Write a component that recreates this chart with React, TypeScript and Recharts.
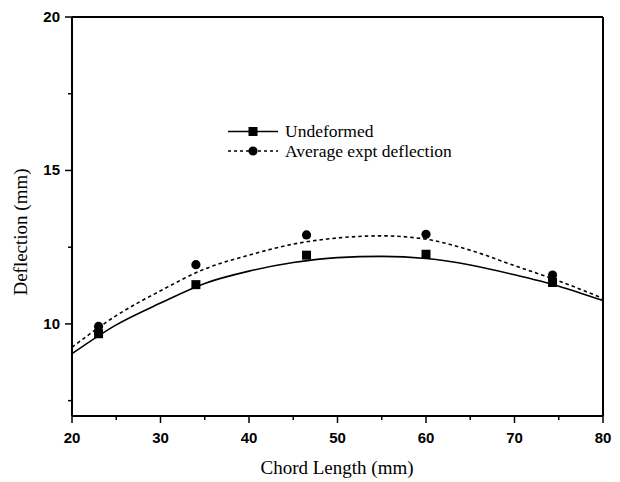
import React from 'react';
import {
  ComposedChart,
  Line,
  Scatter,
  XAxis,
  YAxis,
  ReferenceLine,
  Label,
} from 'recharts';

// fitted curves
const curveX = [20, 25, 30, 35, 40, 45, 50, 55, 60, 65, 70, 75, 80];
const undeformedFit = [9.03, 9.97, 10.68, 11.32, 11.72, 12.0, 12.16, 12.2, 12.13, 11.92, 11.6, 11.23, 10.76];
const averageFit = [9.24, 10.27, 11.08, 11.79, 12.24, 12.6, 12.8, 12.87, 12.76, 12.4, 11.9, 11.4, 10.83];

// measured points
const pointX = [23, 34, 46.5, 60, 74.3];
const undeformedPts = [9.68, 11.28, 12.24, 12.27, 11.35];
const averagePts = [9.92, 11.93, 12.9, 12.92, 11.59];

const xTicks = [20, 25, 30, 35, 40, 45, 50, 55, 60, 65, 70, 75, 80];
const xLabels = [20, 30, 40, 50, 60, 70, 80];
const yTicks = [7.5, 10, 12.5, 15, 17.5, 20];
const yLabels = [10, 15, 20];

const undeformedCurve = curveX.map((x, i) => ({ x, y: undeformedFit[i] }));
const averageCurve = curveX.map((x, i) => ({ x, y: averageFit[i] }));
const undeformedData = pointX.map((x, i) => ({ x, y: undeformedPts[i] }));
const averageData = pointX.map((x, i) => ({ x, y: averagePts[i] }));

const tickFont = { fontFamily: '"Liberation Sans", Arial, sans-serif', fontWeight: 700, fontSize: 15 };
const serif = '"Liberation Serif", "Times New Roman", serif';

const XTick = (props: any) => {
  const { x, y, payload } = props;
  const major = xLabels.includes(payload.value);
  return (
    <g>
      <line x1={x} y1={y} x2={x} y2={y + (major ? 7 : 4)} stroke="#000" strokeWidth={1.5} />
      {major && (
        <text x={x} y={y + 27} textAnchor="middle" fill="#000" style={tickFont}>
          {payload.value}
        </text>
      )}
    </g>
  );
};

const YTick = (props: any) => {
  const { x, y, payload } = props;
  const major = yLabels.includes(payload.value);
  return (
    <g>
      <line x1={x - (major ? 7 : 4)} y1={y} x2={x} y2={y} stroke="#000" strokeWidth={1.5} />
      {major && (
        <text x={x - 12} y={y + 5} textAnchor="end" fill="#000" style={tickFont}>
          {payload.value}
        </text>
      )}
    </g>
  );
};

const Square = (props: any) => {
  const { cx, cy } = props;
  return <rect x={cx - 4.5} y={cy - 4.5} width={9} height={9} fill="#000" />;
};

const Dot = (props: any) => {
  const { cx, cy } = props;
  return <circle cx={cx} cy={cy} r={4.6} fill="#000" />;
};

export default function App() {
  return (
    <div style={{ position: 'absolute', left: 0, top: 0, width: 620, height: 482, background: '#fff' }}>
      <ComposedChart width={620} height={482} margin={{ top: 17, right: 17, bottom: 16, left: 0 }}>
        <XAxis
          dataKey="x"
          type="number"
          domain={[20, 80]}
          ticks={xTicks}
          interval={0}
          height={50}
          tickSize={0}
          tickMargin={0}
          tickLine={false}
          tick={<XTick />}
          axisLine={{ stroke: '#000', strokeWidth: 2 }}
        >
          <Label
            content={() => (
              <text x={337} y={474} textAnchor="middle" fill="#000" fontFamily={serif} fontSize={19}>
                Chord Length (mm)
              </text>
            )}
          />
        </XAxis>
        <YAxis
          dataKey="y"
          type="number"
          domain={[7, 20]}
          ticks={yTicks}
          interval={0}
          width={72}
          tickSize={0}
          tickMargin={0}
          tickLine={false}
          tick={<YTick />}
          axisLine={{ stroke: '#000', strokeWidth: 2 }}
        >
          <Label
            content={() => (
              <text
                x={27}
                y={232}
                textAnchor="middle"
                fill="#000"
                fontFamily={serif}
                fontSize={19}
                transform="rotate(-90 27 232)"
              >
                Deflection (mm)
              </text>
            )}
          />
        </YAxis>
        <ReferenceLine y={20} stroke="#000" strokeWidth={2} />
        <ReferenceLine x={80} stroke="#000" strokeWidth={2} />
        <Line
          data={undeformedCurve}
          dataKey="y"
          type="monotone"
          stroke="#000"
          strokeWidth={1.6}
          dot={false}
          activeDot={false}
          isAnimationActive={false}
        />
        <Line
          data={averageCurve}
          dataKey="y"
          type="monotone"
          stroke="#000"
          strokeWidth={1.6}
          strokeDasharray="3.5 3"
          dot={false}
          activeDot={false}
          isAnimationActive={false}
        />
        <Scatter data={undeformedData} dataKey="y" shape={<Square />} isAnimationActive={false} />
        <Scatter data={averageData} dataKey="y" shape={<Dot />} isAnimationActive={false} />
      </ComposedChart>

      <svg
        width={260}
        height={55}
        style={{ position: 'absolute', left: 220, top: 115 }}
      >
        <g transform="translate(-220 -115)">
          <line x1={228} y1={131.5} x2={278} y2={131.5} stroke="#000" strokeWidth={1.4} />
          <rect x={248.5} y={127} width={9} height={9} fill="#000" />
          <text x={285} y={137} fontFamily={serif} fontSize={17.5} fill="#000">
            Undeformed
          </text>
          <line x1={228} y1={151} x2={278} y2={151} stroke="#000" strokeWidth={1.4} strokeDasharray="3 3" />
          <circle cx={253} cy={151} r={4.6} fill="#000" />
          <text x={285} y={157} fontFamily={serif} fontSize={17.5} fill="#000">
            Average expt deflection
          </text>
        </g>
      </svg>
    </div>
  );
}
